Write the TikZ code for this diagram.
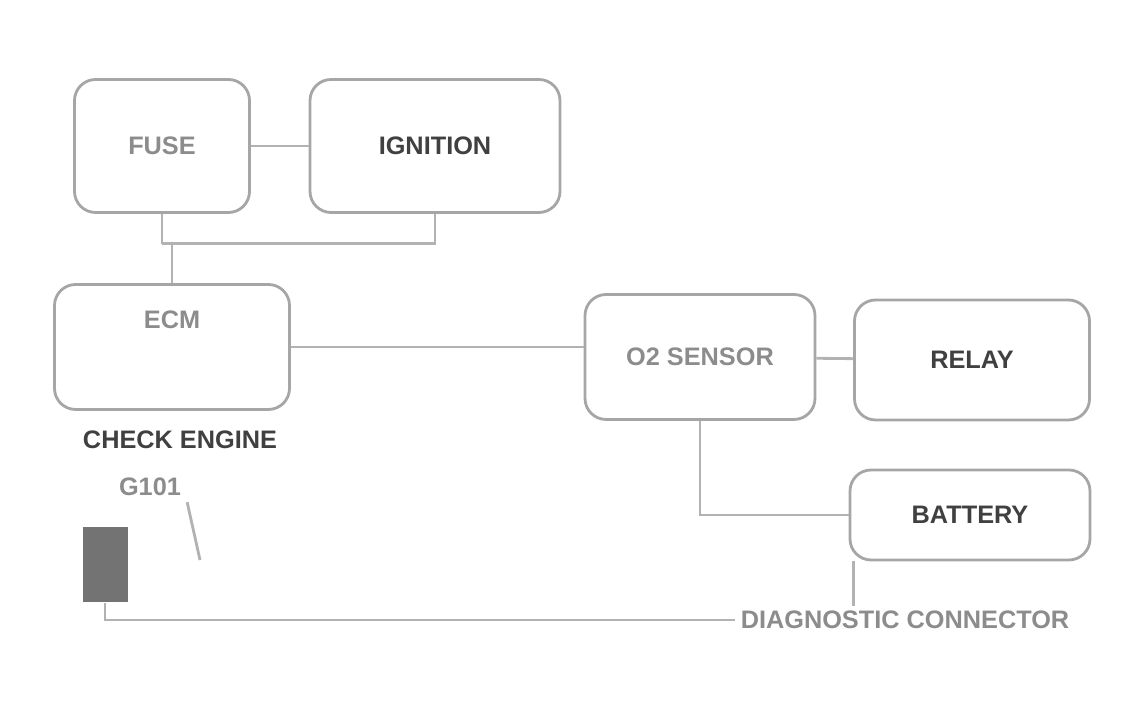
\documentclass[tikz,border=0pt]{standalone}
\usepackage{fontspec}
\setmainfont{Liberation Sans}
\begin{document}
\begin{tikzpicture}[
    box/.style={draw=black!35, line width=1.6pt, rounded corners=12pt, minimum width=#1},
    wire/.style={draw=black!30, line width=1.6pt},
    txt/.style={text=black!75, font=\bfseries\Large},
    lighttxt/.style={text=black!45, font=\bfseries\Large}
  ]
    \useasboundingbox (0,0) rectangle (22.82,14.3);
    \node[box=3.5cm, minimum height=2.66cm, lighttxt] (fuse) at (3.24,11.38) {FUSE};
    \node[box=5.0cm, minimum height=2.66cm, txt] (ign) at (8.7,11.38) {IGNITION};
    \node[box=4.7cm, minimum height=2.5cm, lighttxt, text depth=1.1cm] (ecm) at (3.44,7.36) {ECM};
    \node[txt] (lamp) at (3.6,5.5) {CHECK ENGINE};
    \node[lighttxt] (gnd) at (3.0,4.56) {G101};
    \node[box=4.6cm, minimum height=2.5cm, lighttxt] (sensor) at (14.0,7.16) {O2 SENSOR};
    \node[box=4.7cm, minimum height=2.4cm, txt] (relay) at (19.44,7.1) {RELAY};
    \node[box=4.8cm, minimum height=1.8cm, txt] (batt) at (19.4,4.0) {BATTERY};
    \node[fill=black!55, minimum width=0.9cm, minimum height=1.5cm] (blk) at (2.1,3.0) {};
    \node[lighttxt] (conn) at (18.1,1.9) {DIAGNOSTIC CONNECTOR};
    \coordinate (tip) at (4.0,3.1);
    % wiring
    \draw[wire] (fuse) -- (ign);
    \draw[wire] (fuse.south) -- ++(0,-0.6) coordinate (bus1);
    \draw[wire] (ign.south) |- (bus1) -| (ecm.north);
    \draw[wire] (ecm.east) -- (ecm.east -| sensor.west);
    \draw[wire] (sensor) -- (relay);
    \draw[wire] (sensor.south) |- (batt.west);
    \draw[wire] (batt.south west) ++(0.1,0) -- ++(0,-0.9);
    \draw[wire] (gnd.south east) -- (tip);
    \draw[wire] (blk.south) |- (conn.west);
\end{tikzpicture}
\end{document}
